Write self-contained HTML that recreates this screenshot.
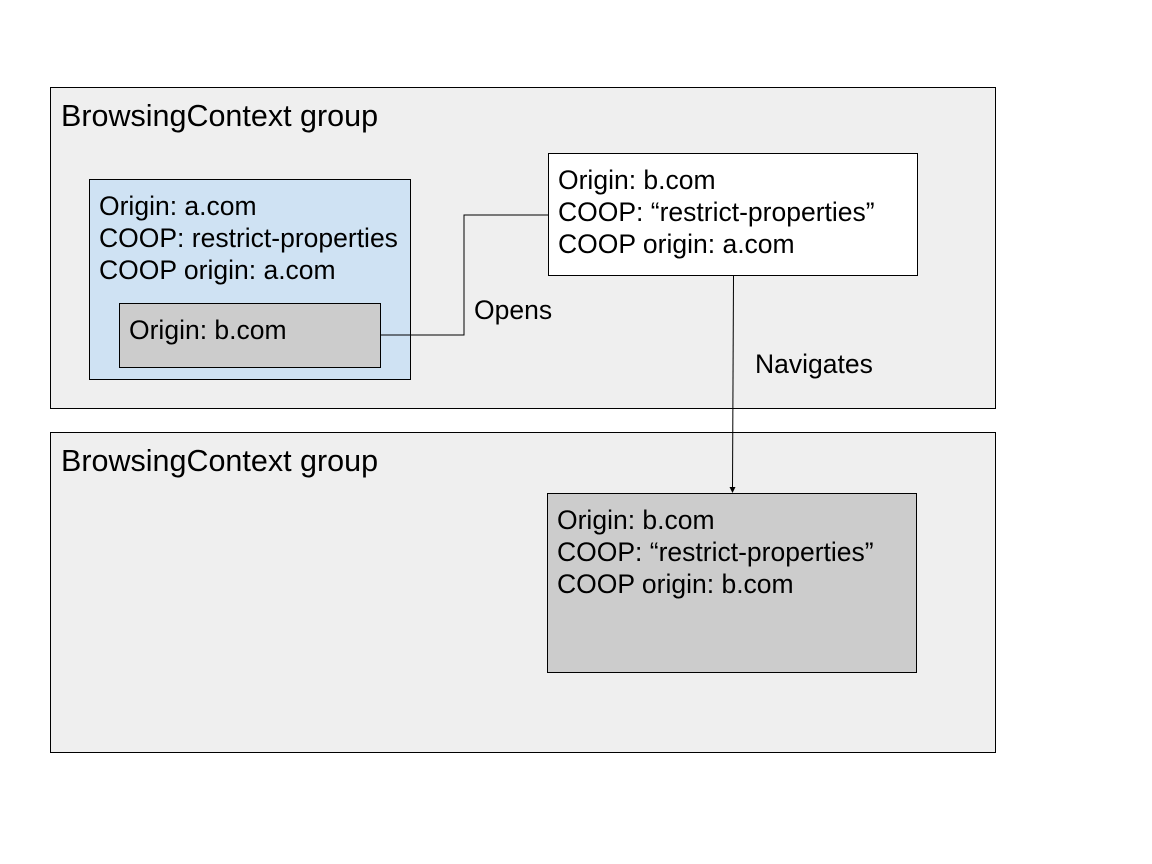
<!DOCTYPE html>
<html><head><style>
body{margin:0;width:1152px;height:864px;background:#fff;position:relative;overflow:hidden;font-family:"Liberation Sans",sans-serif;color:#000}
.b{position:absolute;box-sizing:border-box;border:1px solid #000}
.t{position:absolute;font-size:26.5px;line-height:32px;white-space:nowrap}
.h{font-size:30.5px}
</style></head><body>
<div class="b" style="left:50px;top:87px;width:946px;height:322px;background:#efefef"></div>
<div class="t h" style="left:61px;top:100px">BrowsingContext group</div>
<div class="b" style="left:89px;top:179px;width:322px;height:201px;background:#cfe2f3"></div>
<div class="t" style="left:99px;top:190px">Origin: a.com<br>COOP: restrict-properties<br>COOP origin: a.com</div>
<div class="b" style="left:119px;top:303px;width:262px;height:65px;background:#cccccc"></div>
<div class="t" style="left:129px;top:314px">Origin: b.com</div>
<div class="b" style="left:548px;top:153px;width:370px;height:123px;background:#fff"></div>
<div class="t" style="left:558px;top:164px">Origin: b.com<br>COOP: “restrict-properties”<br>COOP origin: a.com</div>
<div class="t" style="left:474px;top:294px">Opens</div>
<div class="t" style="left:755px;top:348px">Navigates</div>

<div class="b" style="left:50px;top:432px;width:946px;height:321px;background:#efefef"></div>
<div class="t h" style="left:61px;top:445px">BrowsingContext group</div>
<div class="b" style="left:547px;top:493px;width:370px;height:180px;background:#cccccc"></div>
<div class="t" style="left:557px;top:504px">Origin: b.com<br>COOP: “restrict-properties”<br>COOP origin: b.com</div>

<svg style="position:absolute;left:0;top:0" width="1152" height="864">
<polyline points="381,335 464,335 464,215 548,215" fill="none" stroke="#000" stroke-width="1"/>
<line x1="733.5" y1="276" x2="732.5" y2="488" stroke="#000" stroke-width="1"/>
<polygon points="729.5,487 735.5,487 732.5,493" fill="#000"/>
</svg>
</body></html>
